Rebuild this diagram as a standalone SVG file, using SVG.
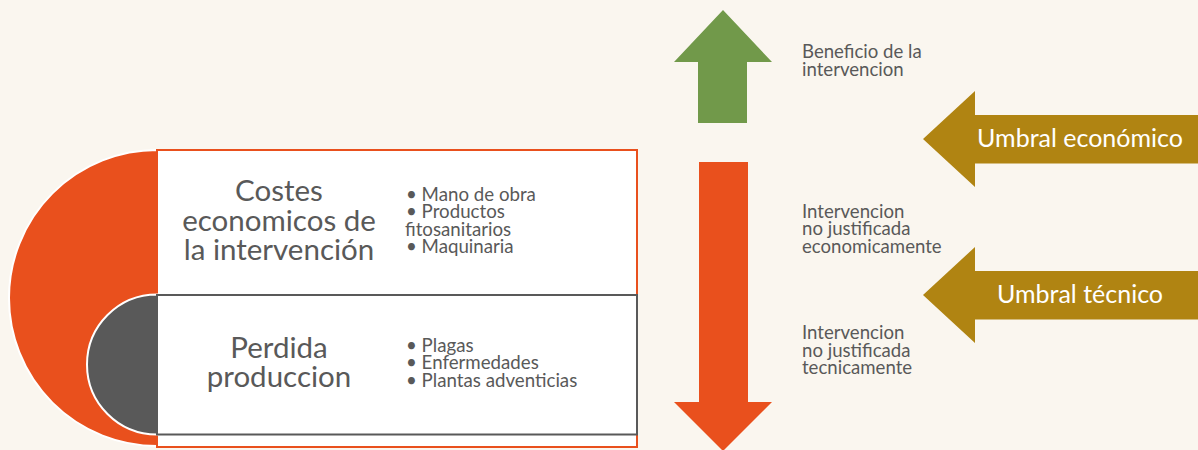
<svg xmlns="http://www.w3.org/2000/svg" width="1198" height="450" viewBox="0 0 1198 450">
<style>
.t{font-family:Lato,"Liberation Sans",sans-serif;fill:#595959}
.h{font-size:29.5px;text-anchor:middle}
.b{font-size:18.7px}
.r{font-size:18.6px}
.u{font-family:Lato,"Liberation Sans",sans-serif;fill:#ffffff;font-size:25px;text-anchor:middle}
</style>
<rect width="1198" height="450" fill="#FAF6EF"/>
<g id="costes">
<path d="M157 150 A148 148 0 0 0 157 446 Z" fill="#E9501D" stroke="#ffffff" stroke-width="2"/>
<rect x="157" y="150" width="480" height="297" fill="#ffffff" stroke="#E9501D" stroke-width="2"/>
<text class="t h"><tspan x="279" y="200.5">Costes</tspan><tspan x="279" y="230.5">economicos de</tspan><tspan x="279" y="259.5">la intervención</tspan></text>
<text class="t b"><tspan x="406" y="200.5">• Mano de obra</tspan><tspan x="406" y="218">• Productos</tspan><tspan x="405" y="235.5">fitosanitarios</tspan><tspan x="406" y="253">• Maquinaria</tspan></text>
</g>
<g id="perdida">
<path d="M157 294.5 A70 70 0 0 0 157 434.5 Z" fill="#595959" stroke="#ffffff" stroke-width="2"/>
<rect x="157" y="295" width="480" height="139.5" fill="#ffffff" stroke="#595959" stroke-width="2"/>
<text class="t h"><tspan x="279" y="358">Perdida</tspan><tspan x="279" y="387">produccion</tspan></text>
<text class="t b"><tspan x="406" y="351.5">• Plagas</tspan><tspan x="406" y="369">• Enfermedades</tspan><tspan x="406" y="386.5">• Plantas adventicias</tspan></text>
</g>
<g id="beneficio">
<polygon points="723,10 772,62 747,62 747,123 698,123 698,62 674,62" fill="#71994A"/>
<text class="t r"><tspan x="802" y="58">Beneficio de la</tspan><tspan x="802" y="76">intervencion</tspan></text>
</g>
<g id="perdida-arrow">
<polygon points="699,162 748,162 748,402 772,402 723,451 674,402 699,402" fill="#E9501D"/>
</g>
<g id="nojust-eco">
<text class="t r"><tspan x="802" y="217.5">Intervencion</tspan><tspan x="802" y="235">no justificada</tspan><tspan x="802" y="252.5">economicamente</tspan></text>
</g>
<g id="nojust-tec">
<text class="t r"><tspan x="802" y="339">Intervencion</tspan><tspan x="802" y="356.5">no justificada</tspan><tspan x="802" y="374">tecnicamente</tspan></text>
</g>
<g id="umbral-eco">
<polygon points="923,139 975,91 975,115 1198,115 1198,163.5 975,163.5 975,187" fill="#B08412"/>
<text class="u" x="1080" y="146.5">Umbral económico</text>
</g>
<g id="umbral-tec">
<polygon points="923,295 975,247 975,271 1198,271 1198,319.5 975,319.5 975,343" fill="#B08412"/>
<text class="u" x="1080" y="302.5">Umbral técnico</text>
</g>
<g id="connectors"/>
</svg>
